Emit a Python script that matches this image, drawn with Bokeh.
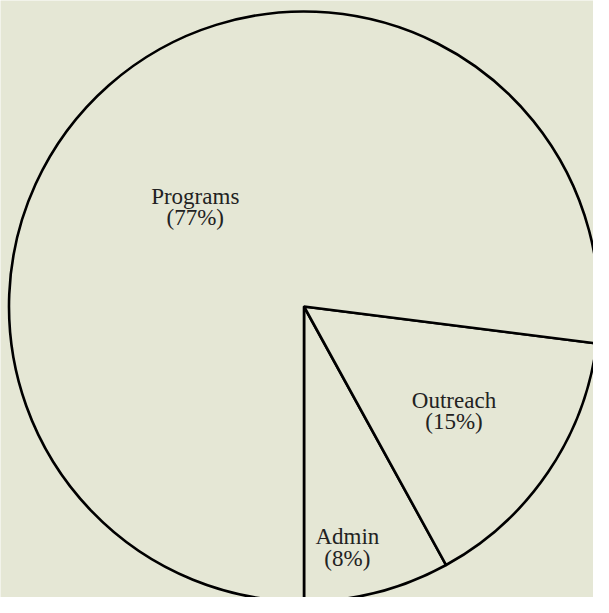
import math
from bokeh.plotting import figure
from bokeh.models import Range1d, ColumnDataSource
from bokeh.core.properties import value
from bokeh.embed import file_html
from bokeh.resources import INLINE

categories = ["Admin", "Outreach", "Programs"]
shares = [8, 15, 77]

# layout
W, H = 593, 597
CX, CY, R = 303.5, 291.0, 295.0
BG = "#e5e7d5"
label_r = [0.83, 0.62, 0.50]
label_da = [-4.2, -0.7, 6.1]

total = sum(shares)
starts, ends, lx, ly, texts = [], [], [], [], []
a = -math.pi / 2
for i, (c, s) in enumerate(zip(categories, shares)):
    span = 2 * math.pi * s / total
    starts.append(a)
    ends.append(a + span)
    mid = a + span / 2 + math.radians(label_da[i])
    lx.append(CX + R * label_r[i] * math.cos(mid))
    ly.append(CY + R * label_r[i] * math.sin(mid))
    texts.append(f"{c}\n({s}%)")
    a += span

src = ColumnDataSource(dict(start=starts, end=ends, x=[CX] * 3, y=[CY] * 3))
lsrc = ColumnDataSource(dict(x=lx, y=ly, t=texts))

p = figure(width=W, height=H, output_backend="svg", toolbar_location=None,
           x_range=Range1d(0, W), y_range=Range1d(0, H), min_border=0)
p.axis.visible = False
p.grid.visible = False
p.outline_line_color = None
p.background_fill_color = BG
p.border_fill_color = BG

p.wedge(x="x", y="y", radius=R, start_angle="start", end_angle="end", source=src,
        fill_color=BG, line_color="black", line_width=2.6)
p.text(x="x", y="y", text="t", source=lsrc, text_align="center", text_baseline="middle",
       text_font=value("Liberation Serif"), text_font_size="23px", text_color="#222222",
       text_line_height=0.85)

open("out.html", "w").write(file_html(p, INLINE))
